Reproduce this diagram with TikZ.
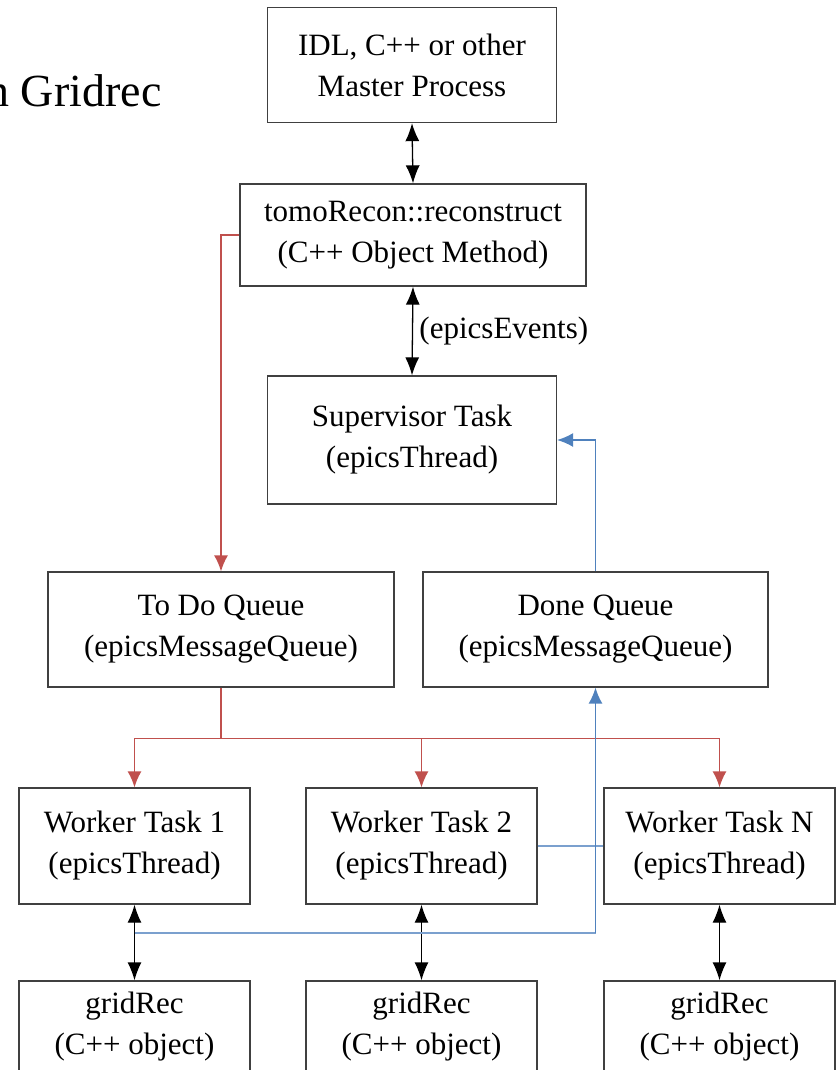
\documentclass[tikz,border=0pt]{standalone}
\usepackage{fontspec}
\setmainfont{Liberation Serif}
\usepackage{tikz}
\usetikzlibrary{arrows.meta,calc}
\definecolor{boxline}{HTML}{404040}
\definecolor{todored}{HTML}{C0504D}
\definecolor{doneblue}{HTML}{4F81BD}
\tikzset{
  taskbox/.style={draw=boxline, line width=1.3pt, align=center, inner sep=0pt,
    font=\fontsize{31}{41}\selectfont},
  callarrow/.style={line width=1.3pt, {Latex[length=18pt,width=14pt]}-{Latex[length=18pt,width=14pt]}},
  queuearrow/.style={line width=1.4pt, todored, -{Latex[length=16pt,width=14pt]}},
  resultarrow/.style={line width=1.4pt, doneblue, -{Latex[length=16pt,width=14pt]}},
  resultline/.style={line width=1.6pt, doneblue!75}
}

\begin{document}
\begin{tikzpicture}[x=1pt,y=-1pt]
\useasboundingbox (0,0) rectangle (838,1070);
\node[anchor=base east, font=\fontsize{46}{50}\selectfont] (title) at (165,107) {n Gridrec};

\node[taskbox, minimum width=289, minimum height=115] (master) at (412,65)
  {IDL, C++ or other\\Master Process};
\node[taskbox, minimum width=346, minimum height=102] (recon) at (413,235)
  {tomoRecon::reconstruct\\(C++ Object Method)};
\node[taskbox, minimum width=289, minimum height=128] (supervisor) at (412,440)
  {Supervisor Task\\(epicsThread)};
\node[taskbox, minimum width=346, minimum height=115] (todo) at (221,629.5)
  {To Do Queue\\(epicsMessageQueue)};
\node[taskbox, minimum width=345, minimum height=115] (done) at (595.5,629.5)
  {Done Queue\\(epicsMessageQueue)};

\foreach \x/\n/\t in {134.5/1/1, 421.5/2/2, 719.5/N/N} {
  \node[taskbox, minimum width=231, minimum height=116] (worker\n) at (\x,846)
    {Worker Task \t\\(epicsThread)};
  \node[taskbox, minimum width=231, minimum height=92] (grid\n) at (\x,1027)
    {gridRec\\(C++ object)};
  \draw[callarrow] (worker\n.south) -- (grid\n.north);
}

\draw[callarrow] (master.south) -- (recon.north);
\draw[callarrow] (recon.south) -- (supervisor.north)
  node[midway, right, xshift=3pt, font=\fontsize{31}{41}\selectfont] (events) {(epicsEvents)};

% work goes out through the to do queue
\draw[queuearrow] (recon.west) -| (todo.north);
\draw[line width=1.4pt, todored] (todo.south) -- ++(0,51) coordinate (split);
\draw[queuearrow] (split) -| (worker1.north);
\draw[queuearrow] (split) -| (worker2.north);
\draw[queuearrow] (split) -| (workerN.north);

% results come back through the done queue
\coordinate (w1link) at ($(worker1.south)!0.377!(grid1.north)$);
\draw[resultline] (worker2.east) -- (workerN.west);
\draw[resultline] (w1link) -- (w1link -| done.south);
\draw[resultarrow] (w1link -| done.south) -- (done.south);
\draw[resultarrow] (done.north) |- (supervisor.east);
\end{tikzpicture}
\end{document}
